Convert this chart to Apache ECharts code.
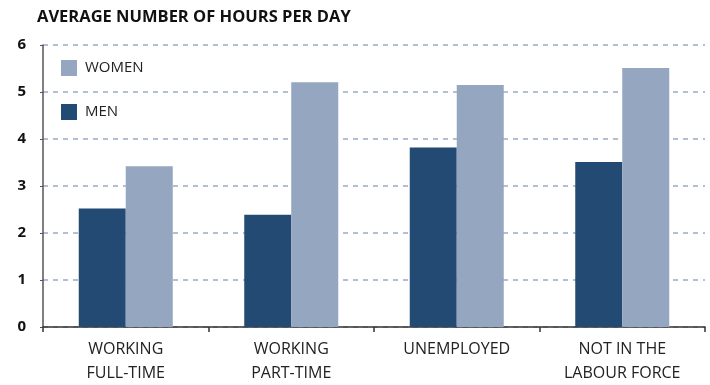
<!DOCTYPE html>
<html>
<head>
<meta charset="utf-8">
<script src="https://cdn.jsdelivr.net/npm/echarts@6/dist/echarts.min.js"></script>
<style>
  html, body { margin: 0; padding: 0; background: #fff; }
  #chart { width: 710px; height: 385px; }
</style>
</head>
<body>
<div id="chart"></div>
<script>
// Average hours per day by labour-force status
const categories = ['WORKING\nFULL-TIME', 'WORKING\nPART-TIME', 'UNEMPLOYED', 'NOT IN THE\nLABOUR FORCE'];
const men = [2.52, 2.39, 3.82, 3.51];
const women = [3.42, 5.21, 5.15, 5.51];
const yTicks = [0, 1, 2, 3, 4, 5, 6];

const font = '"Open Sans", "Noto Sans", sans-serif';

const chart = echarts.init(document.getElementById('chart'), null, { renderer: 'canvas' });
chart.setOption({
  animation: false,
  title: {
    text: 'AVERAGE NUMBER OF HOURS PER DAY',
    left: 37, top: 9,
    padding: 0,
    textStyle: { fontFamily: font, fontSize: 16.5, fontWeight: 'bold', color: '#111' }
  },
  legend: {
    orient: 'vertical',
    left: 61, top: 60,
    padding: 0,
    itemWidth: 16, itemHeight: 16, itemGap: 28,
    icon: 'rect',
    data: ['WOMEN', 'MEN'],
    textStyle: { fontFamily: font, fontSize: 15, color: '#222', padding: [0, 0, 0, 3] }
  },
  grid: { left: 43, right: 5, top: 45, bottom: 56, containLabel: false },
  xAxis: {
    type: 'category',
    data: categories,
    axisLine: { lineStyle: { color: '#333', width: 1.5 } },
    axisTick: { show: true, length: 5, lineStyle: { color: '#333', width: 1.5 } },
    axisLabel: { fontFamily: font, fontSize: 16, color: '#222', lineHeight: 24, margin: 10 }
  },
  yAxis: {
    type: 'value',
    min: yTicks[0], max: yTicks[yTicks.length - 1], interval: 1,
    axisLine: { show: true, lineStyle: { color: '#555', width: 1.5 } },
    axisTick: { show: true, length: 3, lineStyle: { color: '#555' } },
    axisLabel: { fontFamily: font, fontSize: 15, fontWeight: 'bold', color: '#111', margin: 17 },
    splitLine: { lineStyle: { color: '#9aabc6', type: [5, 5], width: 1.5 } }
  },
  series: [
    {
      name: 'MEN', type: 'bar', data: men,
      barWidth: 47, barGap: '0%',
      itemStyle: { color: '#224a72' }
    },
    {
      name: 'WOMEN', type: 'bar', data: women,
      barWidth: 47, barGap: '0%',
      itemStyle: { color: '#95a6c0' }
    }
  ]
});
</script>
</body>
</html>
